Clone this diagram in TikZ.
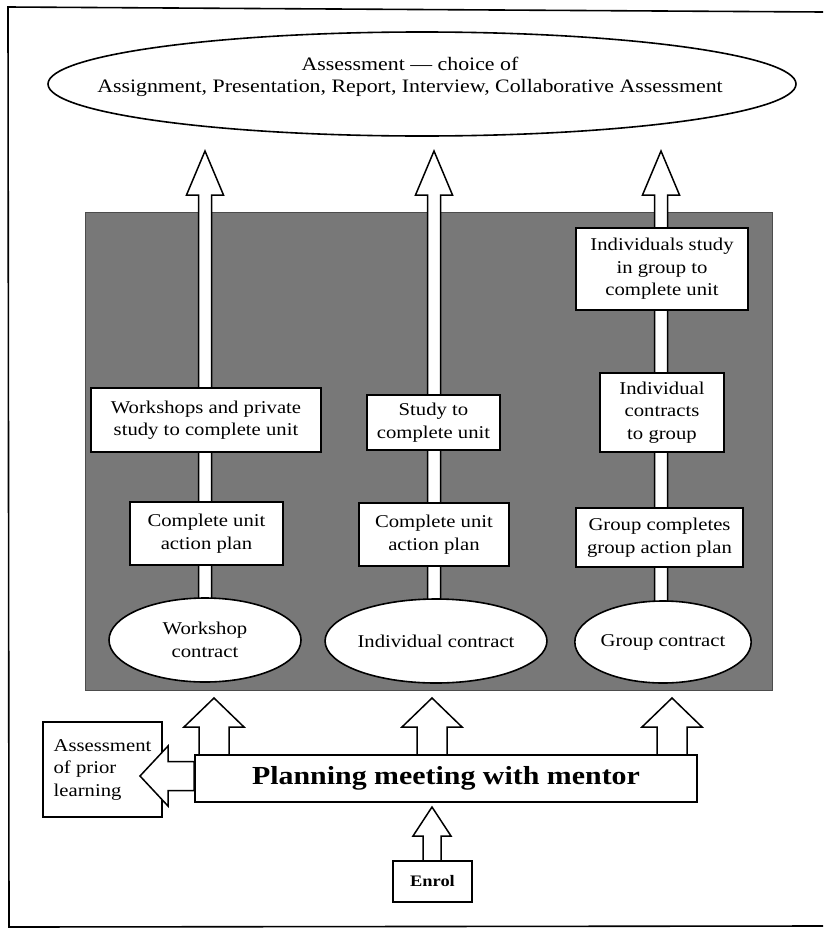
\documentclass[tikz,border=0pt]{standalone}
\usepackage{fontspec}
\setmainfont{Liberation Serif}[FakeStretch=1.15]
\usetikzlibrary{shapes.geometric,calc}

\pgfdeclarelayer{shade}
\pgfdeclarelayer{shafts}
\pgfsetlayers{shade,shafts,main}

\definecolor{stipple}{gray}{0.47}

% hollow block arrow pointing up: #1 base, #2 tip, #3 half shaft, #4 half head, #5 head length
\newcommand\blockup[5]{%
  \draw[hollow] let \p1=(#1), \p2=(#2) in
    (\x2-#3,\y1) -- (\x2-#3,\y2-#5) -- (\x2-#4,\y2-#5) -- (\x2,\y2)
    -- (\x2+#4,\y2-#5) -- (\x2+#3,\y2-#5) -- (\x2+#3,\y1) -- cycle;}
% hollow block arrow pointing left: #1 base, #2 tip, #3 half shaft, #4 half head, #5 head length
\newcommand\blockleft[5]{%
  \draw[hollow] let \p1=(#1), \p2=(#2) in
    (\x1,\y2+#3) -- (\x2+#5,\y2+#3) -- (\x2+#5,\y2+#4) -- (\x2,\y2)
    -- (\x2+#5,\y2-#4) -- (\x2+#5,\y2-#3) -- (\x1,\y2-#3) -- cycle;}

\tikzset{
  box/.style={draw, line width=1.6pt, fill=white, rectangle, align=center,
    inner sep=0pt, font=\fontsize{18}{22.5}\selectfont},
  oval/.style={draw, line width=1.6pt, fill=white, ellipse, align=center,
    inner sep=0pt, font=\fontsize{18}{22.5}\selectfont},
  hollow/.style={draw, line width=1.5pt, fill=white, line join=miter},
  frame/.style={line width=1.6pt},
}

\begin{document}
\begin{tikzpicture}[x=1pt,y=-1pt]
\useasboundingbox (0,0) rectangle (823,929);

% outer frame (right side runs off the page)
\draw[frame] (823,12) -- (8,7) -- (9,927) -- (823,926);

% shaded panel
\begin{pgfonlayer}{shade}
  \fill[stipple] (85,212) rectangle (772,690);
  \draw[black!70, line width=0.8pt] (85,212) rectangle (772,690);
\end{pgfonlayer}

% assessment oval
\node[oval, minimum width=748pt, minimum height=104pt] (assess) at (422,84) {};
\node[font=\fontsize{19}{22}\selectfont, align=center, inner sep=0pt] (assesslabel) at (410,77)
  {Assessment --- choice of\\Assignment, Presentation, Report, Interview, Collaborative Assessment};

% workshop column
\node[box, minimum width=230pt, minimum height=64pt] (ws) at (206,420)
  {Workshops and private\\study to complete unit};
\node[box, minimum width=153pt, minimum height=63pt] (wplan) at (206.5,533.5)
  {Complete unit\\action plan};
\node[oval, minimum width=192pt, minimum height=84pt] (wc) at (205,640)
  {Workshop\\contract};

% individual column
\node[box, minimum width=133pt, minimum height=55pt] (st) at (433.5,422.5)
  {Study to\\complete unit};
\node[box, minimum width=150pt, minimum height=63pt] (iplan) at (434,534.5)
  {Complete unit\\action plan};
\node[oval, minimum width=190pt, minimum height=84pt] (ic) at (436,641)
  {Individual contract};

% group column
\node[box, minimum width=172pt, minimum height=82pt] (gs) at (662,269)
  {Individuals study\\in group to\\complete unit};
\node[box, minimum width=124pt, minimum height=79pt] (gic) at (662,412.5)
  {Individual\\contracts\\to group};
\node[box, minimum width=167pt, minimum height=59pt] (gplan) at (659.5,537.5)
  {Group completes\\group action plan};
\node[oval, minimum width=174pt, minimum height=82pt] (gc) at (663,642)
  {Group contract};

% planning, prior learning, enrolment
\node[box, minimum width=502pt, minimum height=47pt,
  font=\fontsize{26}{30}\bfseries\selectfont] (plan) at (446,778.5)
  {Planning meeting with mentor};
\node[box, minimum width=119pt, minimum height=95pt, align=left] (apl) at (102.5,769.5)
  {Assessment\\of prior\\learning};
\node[box, minimum width=79pt, minimum height=41pt,
  font=\fontsize{16}{20}\bfseries\selectfont] (enrol) at (432.5,881.5) {Enrol};

% arrow tips
\coordinate (tw) at (205,151);
\coordinate (ti) at (434,151);
\coordinate (tg) at (661,151);
\coordinate (pw) at (214,698);
\coordinate (pi) at (432,698);
\coordinate (pg) at (672,698);
\coordinate (pe) at (432,807);
\coordinate (pa) at (140,776);

\begin{pgfonlayer}{shafts}
  \blockup{wc.center}{tw}{6.5pt}{18.5pt}{44pt}
  \blockup{ic.center}{ti}{6.5pt}{18.5pt}{44pt}
  \blockup{gc.center}{tg}{6.5pt}{18.5pt}{44pt}
  \blockup{plan.center}{pw}{15pt}{30pt}{29pt}
  \blockup{plan.center}{pi}{15pt}{30pt}{29pt}
  \blockup{plan.center}{pg}{15pt}{30pt}{29pt}
  \blockup{enrol.center}{pe}{9pt}{19pt}{29pt}
\end{pgfonlayer}

\blockleft{plan.west}{pa}{14.5pt}{30pt}{28pt}
\end{tikzpicture}
\end{document}
